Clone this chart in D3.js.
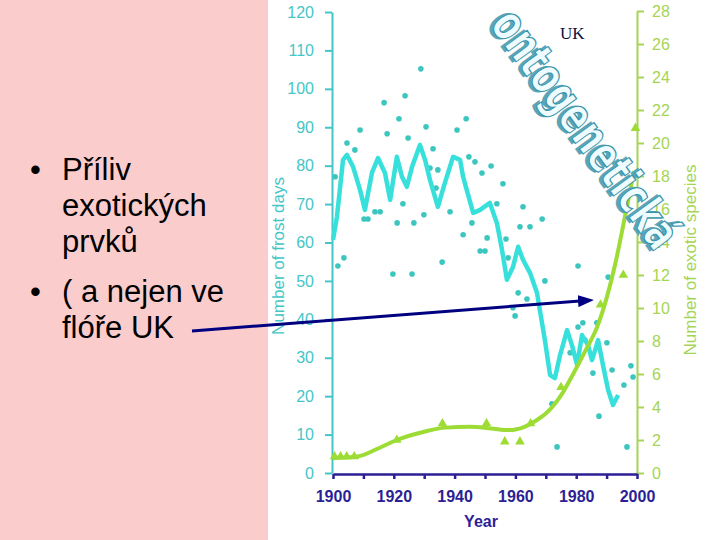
<!DOCTYPE html>
<html><head><meta charset="utf-8">
<script src="https://cdn.jsdelivr.net/npm/d3@7/dist/d3.min.js"></script>
<style>body{margin:0;background:#fff}</style>
</head><body>
<svg id="c" width="720" height="540"></svg>
<script>
// ---- data ----
const lineYears=[1900,1901.3,1903.3,1904.6,1906.6,1908.9,1910.5,1912.8,1914.8,1917.1,1918.8,1921,1922.7,1924.3,1926,1928.6,1930.3,1931.9,1934.5,1936.8,1939.5,1941.8,1942.8,1946.1,1948.4,1951.6,1953.9,1955.6,1957.2,1959.2,1960.9,1962.5,1964.8,1967.1,1969.7,1971.4,1973,1974.7,1977,1978.6,1980.3,1981.9,1983.9,1985.2,1987.2,1988.8,1990.5,1992.1,1993.8];
const lineValues=[60.7,66.7,81.5,82.8,79.7,73.7,68.5,78.1,82,78.1,71.1,82.3,77.1,74.5,79.7,85.4,81.5,76.3,69.3,75.5,82.3,81.5,77.1,67.7,68.5,70.3,65.1,58.1,50.3,53.6,58.9,55.5,52.1,46.9,34.6,25.5,24.7,30.7,37.2,33.3,28.1,35.9,33.3,29.4,34.6,28.1,21.6,17.7,20.3];
const dotYears=[1900.7,1901.6,1903.6,1904.6,1907.2,1908.9,1910.2,1911.5,1913.8,1915.5,1916.8,1917.8,1919.7,1921.1,1921.7,1923.0,1923.7,1924.7,1926.0,1926.6,1928.9,1929.9,1930.6,1932.9,1931.9,1934.5,1933.9,1935.9,1938.5,1940.8,1942.8,1943.8,1944.7,1945.7,1946.7,1948.4,1950.0,1949.0,1950.7,1952.0,1953.9,1955.9,1956.9,1957.6,1959.2,1959.9,1960.9,1961.5,1962.5,1963.8,1964.8,1968.8,1969.7,1972.0,1973.7,1978.0,1980.6,1980.6,1982.2,1982.9,1985.5,1986.8,1987.5,1990.1,1990.5,1991.8,1995.7,1996.7,1998.0,1998.7];
const dotValues=[77.1,53.9,56.0,85.9,84.1,89.3,66.1,66.1,68.0,68.0,96.4,88.3,51.8,65.1,92.2,70.1,98.2,87.2,51.8,65.1,105.2,67.2,90.1,84.4,79.4,78.9,74.2,54.9,68.0,89.3,62.0,92.2,82.3,65.1,81.0,57.8,57.8,78.1,61.2,79.9,70.1,75.3,60.9,56.0,43.0,40.9,46.9,64.1,69.3,45.3,64.1,66.1,50.0,18.0,6.8,31.3,53.9,38.0,39.1,34.6,26.0,39.1,14.8,33.9,51.0,26.8,22.9,6.8,27.9,25.0];
const curveYears=[1900,1908,1915,1921,1930,1937,1945,1952,1958,1963,1967,1970,1975,1979,1983,1987,1990,1993,1996,1999];
const curveValues=[0.9,1.0,1.5,2.0,2.5,2.75,2.8,2.7,2.6,2.8,3.2,3.6,4.7,6.0,7.4,8.9,10.6,12.8,15.5,18.3];
const triYears=[1900.5,1902.5,1904.5,1907,1921,1936,1950.5,1956.5,1961.5,1965,1975,1988,1995.5,1999.5];
const triValues=[1.0,1.0,1.0,1.0,2.0,3.0,3.0,1.9,1.9,3.0,5.2,10.2,12.0,20.9];
const leftTicks=d3.range(0,121,10);
const rightTicks=d3.range(0,29,2);
const yearTicks=d3.range(1900,2001,10);
const bulletLines=[["•","Příliv"],["","exotických"],["","prvků"],["•","( a nejen ve"],["","flóře UK"]];

// ---- drawing ----
const svg=d3.select("#c");
svg.append("rect").attr("x",0).attr("y",0).attr("width",268).attr("height",540).attr("fill","#facccc");

const x=d3.scaleLinear().domain([1900,2000]).range([333,637]);
const yL=d3.scaleLinear().domain([0,120]).range([473,12]);
const yR=d3.scaleLinear().domain([0,28]).range([473,11]);

const cyan="#38e0dc", cyanAx="#45c6c6", green="#9ddc35", greenAx="#a6d455", navy="#2c1f96";
const sans="Liberation Sans, Arial, sans-serif";

// left axis
const gl=svg.append("g").attr("transform","translate(332,0)")
  .call(d3.axisLeft(yL).tickValues(leftTicks).tickSize(7).tickSizeOuter(0).tickPadding(11));
gl.selectAll("path,line").attr("stroke",cyanAx).attr("stroke-width",2);
gl.selectAll("text").attr("fill",cyanAx).attr("font-family",sans).attr("font-size",16);

// right axis
const gr=svg.append("g").attr("transform","translate(637,0)")
  .call(d3.axisRight(yR).tickValues(rightTicks).tickSize(7).tickSizeOuter(0).tickPadding(8));
gr.selectAll("path,line").attr("stroke",greenAx).attr("stroke-width",2);
gr.selectAll("text").attr("fill",greenAx).attr("font-family",sans).attr("font-size",16);

// bottom axis
const gb=svg.append("g").attr("transform","translate(0,474)")
  .call(d3.axisBottom(x).tickValues(yearTicks).tickSize(5).tickSizeOuter(0).tickPadding(12).tickFormat(d=>d%20===0?d:""));
gb.selectAll("path,line").attr("stroke",navy).attr("stroke-width",2.5);
gb.selectAll("text").attr("fill",navy).attr("font-family",sans).attr("font-size",16).attr("font-weight","bold");

// axis titles
svg.append("text").attr("transform","translate(284,256) rotate(-90)").attr("text-anchor","middle")
  .attr("fill",cyanAx).attr("font-family",sans).attr("font-size",17).text("Number of frost days");
svg.append("text").attr("transform","translate(696,260) rotate(-90)").attr("text-anchor","middle")
  .attr("fill",greenAx).attr("font-family",sans).attr("font-size",17).text("Number of exotic species");
svg.append("text").attr("x",481).attr("y",527).attr("text-anchor","middle")
  .attr("fill",navy).attr("font-family",sans).attr("font-size",16).attr("font-weight","bold").text("Year");

// cyan dots
svg.append("g").selectAll("circle").data(dotYears.map((d,i)=>[d,dotValues[i]])).join("circle")
  .attr("cx",d=>x(d[0])).attr("cy",d=>yL(d[1])).attr("r",2.8).attr("fill","#3cc6c0");

// cyan line
const lineData=lineYears.map((d,i)=>[d,lineValues[i]]);
svg.append("path").datum(lineData).attr("fill","none").attr("stroke",cyan).attr("stroke-width",4.5).attr("stroke-linejoin","round")
  .attr("d",d3.line().x(d=>x(d[0])).y(d=>yL(d[1])));

// green curve
const curveData=curveYears.map((d,i)=>[d,curveValues[i]]);
svg.append("path").datum(curveData).attr("fill","none").attr("stroke",green).attr("stroke-width",4)
  .attr("d",d3.line().x(d=>x(d[0])).y(d=>yR(d[1])).curve(d3.curveMonotoneX));
svg.append("g").selectAll("path").data(triYears.map((d,i)=>[d,triValues[i]])).join("path")
  .attr("transform",d=>`translate(${x(d[0])},${yR(d[1])})`)
  .attr("d",d3.symbol(d3.symbolTriangle,40)).attr("fill",green);

// WordArt text
const wa=svg.append("g").attr("transform","translate(584,130) rotate(54)");
wa.append("text").attr("x",-2).attr("y",2.5).attr("dy","0.3em").attr("text-anchor","middle")
  .attr("font-family","DejaVu Sans, sans-serif").attr("font-weight","bold").attr("font-size",50)
  .attr("textLength",282).attr("lengthAdjust","spacingAndGlyphs")
  .attr("fill","#5aa6b8").attr("stroke","#5aa6b8").attr("stroke-width",2).text("ontogenetická");
wa.append("text").attr("dy","0.3em").attr("text-anchor","middle")
  .attr("font-family","DejaVu Sans, sans-serif").attr("font-weight","bold").attr("font-size",50)
  .attr("textLength",282).attr("lengthAdjust","spacingAndGlyphs")
  .attr("fill","#eefcff").attr("stroke","#3994aa").attr("stroke-width",1.3).text("ontogenetická");

// UK label
svg.append("text").attr("x",560).attr("y",39).attr("font-family","Liberation Serif, Times New Roman, serif")
  .attr("font-size",17).attr("fill","#101040").text("UK");

// bullets
const baselines=[180,216,252,302,338];
bulletLines.forEach((l,i)=>{
  if(l[0]) svg.append("text").attr("x",30).attr("y",baselines[i]).attr("font-family",sans).attr("font-size",31).attr("fill","#000").text(l[0]);
  svg.append("text").attr("x",62).attr("y",baselines[i]).attr("font-family",sans).attr("font-size",31).attr("fill","#000").text(l[1]);
});

// arrow
svg.append("defs").append("marker").attr("id","ah").attr("markerUnits","userSpaceOnUse")
  .attr("markerWidth",16).attr("markerHeight",12).attr("refX",2).attr("refY",6).attr("orient","auto")
  .append("path").attr("d","M0,0 L16,6 L0,12 Z").attr("fill","#000080");
svg.append("line").attr("x1",192).attr("y1",331).attr("x2",580).attr("y2",301)
  .attr("stroke","#000080").attr("stroke-width",3).attr("marker-end","url(#ah)");
</script>
</body></html>
